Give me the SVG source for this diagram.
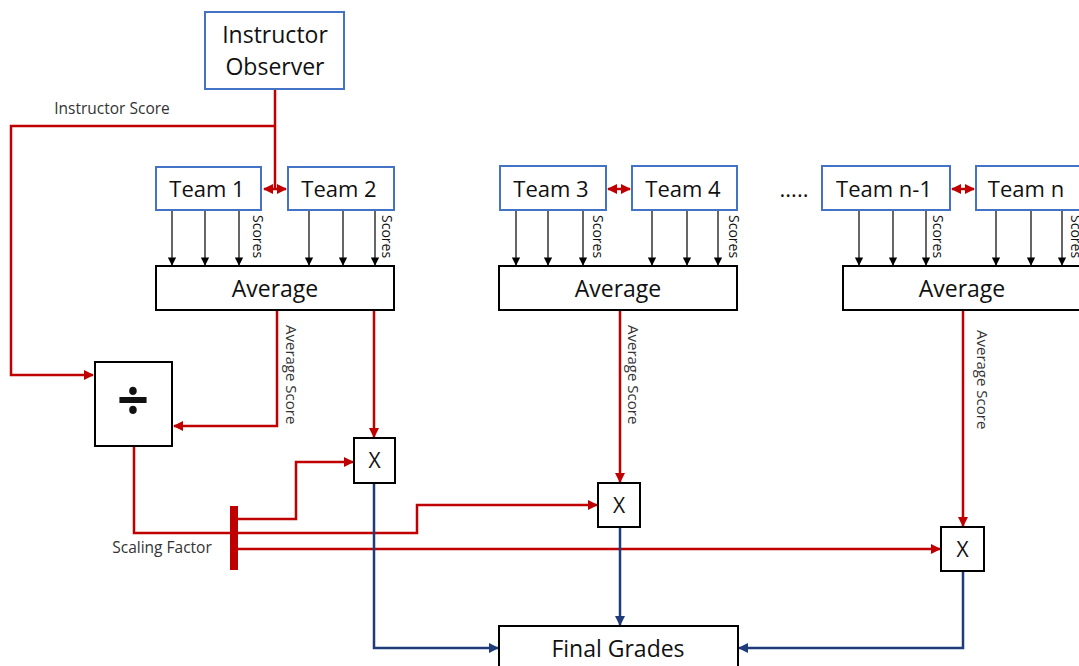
<svg xmlns="http://www.w3.org/2000/svg" width="1079" height="666" viewBox="0 0 1079 666">
<style>
.bbox{fill:#fff;stroke:#4472C4;stroke-width:2}
.kbox{fill:#fff;stroke:#000;stroke-width:2}
.t{font-family:"Open Sans","Noto Sans",sans-serif;fill:#111;text-anchor:middle}
.big{font-size:23px}
.tm{font-size:22px}
.sm{font-size:15px;fill:#333}
.sm2{font-size:15.5px;fill:#333}
.sc{font-size:14px;fill:#111}
.red{fill:none;stroke:#C00000;stroke-width:2.5}
.blue{fill:none;stroke:#1F3B7A;stroke-width:2.5}
.blk{fill:none;stroke:#000;stroke-width:1.2}
</style>
<defs>
<marker id="ar" viewBox="0 0 10 10" refX="9" refY="5" markerWidth="4" markerHeight="4" orient="auto-start-reverse" markerUnits="strokeWidth"><path d="M0,0 L10,5 L0,10 z" fill="#C00000"/></marker>
<marker id="ab" viewBox="0 0 10 10" refX="9" refY="5" markerWidth="4" markerHeight="4" orient="auto" markerUnits="strokeWidth"><path d="M0,0 L10,5 L0,10 z" fill="#1F3B7A"/></marker>
<marker id="ak" viewBox="0 0 10 10" refX="9" refY="5" markerWidth="7" markerHeight="7" orient="auto" markerUnits="strokeWidth"><path d="M0,0 L10,5 L0,10 z" fill="#000"/></marker>
</defs>

<g id="connectors">
<path class="red" d="M275,89 V189"/>
<path class="red" d="M275,126 H11 V375 H93" marker-end="url(#ar)"/>
<path class="red" d="M264,189 H286" marker-start="url(#ar)" marker-end="url(#ar)"/>
<path class="red" d="M608,189 H630" marker-start="url(#ar)" marker-end="url(#ar)"/>
<path class="red" d="M952,189 H974" marker-start="url(#ar)" marker-end="url(#ar)"/>
<g class="blk">
<path d="M172,210 V265" marker-end="url(#ak)"/>
<path d="M205,210 V265" marker-end="url(#ak)"/>
<path d="M239,210 V265" marker-end="url(#ak)"/>
<path d="M309,210 V265" marker-end="url(#ak)"/>
<path d="M343,210 V265" marker-end="url(#ak)"/>
<path d="M375,210 V265" marker-end="url(#ak)"/>
<path d="M516,210 V265" marker-end="url(#ak)"/>
<path d="M548,210 V265" marker-end="url(#ak)"/>
<path d="M583,210 V265" marker-end="url(#ak)"/>
<path d="M652,210 V265" marker-end="url(#ak)"/>
<path d="M687,210 V265" marker-end="url(#ak)"/>
<path d="M718,210 V265" marker-end="url(#ak)"/>
<path d="M859,210 V265" marker-end="url(#ak)"/>
<path d="M893,210 V265" marker-end="url(#ak)"/>
<path d="M926,210 V265" marker-end="url(#ak)"/>
<path d="M996,210 V265" marker-end="url(#ak)"/>
<path d="M1031,210 V265" marker-end="url(#ak)"/>
<path d="M1062,210 V265" marker-end="url(#ak)"/>
</g>
<path class="red" d="M277,311 V426 H174" marker-end="url(#ar)"/>
<path class="red" d="M374,311 V437" marker-end="url(#ar)"/>
<path class="red" d="M620,311 V482" marker-end="url(#ar)"/>
<path class="red" d="M963,311 V526" marker-end="url(#ar)"/>
<path class="red" d="M134,446 V533 H417 V505 H597" marker-end="url(#ar)"/>
<path class="red" d="M238,519 H296 V462 H353" marker-end="url(#ar)"/>
<path class="red" d="M238,549 H940" marker-end="url(#ar)"/>
<rect x="230" y="506" width="8" height="64" fill="#C00000"/>
<path class="blue" d="M374,483 V648 H498" marker-end="url(#ab)"/>
<path class="blue" d="M620,527 V625" marker-end="url(#ab)"/>
<path class="blue" d="M963,571 V648 H739" marker-end="url(#ab)"/>
</g>

<g id="instructor">
<rect class="bbox" x="205" y="12" width="139" height="77"/>
<text class="t big" x="275" y="43">Instructor</text>
<text class="t big" x="275" y="75">Observer</text>
</g>
<g id="team1"><rect class="bbox" x="156" y="167" width="105" height="43"/><text class="t tm" x="207" y="197">Team 1</text></g>
<g id="team2"><rect class="bbox" x="288" y="167" width="106" height="43"/><text class="t tm" x="339" y="197">Team 2</text></g>
<g id="team3"><rect class="bbox" x="500" y="166" width="106" height="44"/><text class="t tm" x="551" y="197">Team 3</text></g>
<g id="team4"><rect class="bbox" x="632" y="166" width="105" height="44"/><text class="t tm" x="683" y="197">Team 4</text></g>
<g id="dots"><text class="t tm" x="794" y="197">.....</text></g>
<g id="teamn1"><rect class="bbox" x="822" y="166" width="128" height="44"/><text class="t tm" x="884" y="197">Team n-1</text></g>
<g id="teamn"><rect class="bbox" x="976" y="166" width="110" height="44"/><text class="t tm" x="1026" y="197">Team n</text></g>

<g id="scores-labels">
<text class="t sc" transform="translate(253,215) rotate(90)" style="text-anchor:start">Scores</text>
<text class="t sc" transform="translate(382,215) rotate(90)" style="text-anchor:start">Scores</text>
<text class="t sc" transform="translate(593,215) rotate(90)" style="text-anchor:start">Scores</text>
<text class="t sc" transform="translate(729,215) rotate(90)" style="text-anchor:start">Scores</text>
<text class="t sc" transform="translate(933,215) rotate(90)" style="text-anchor:start">Scores</text>
<text class="t sc" transform="translate(1071,215) rotate(90)" style="text-anchor:start">Scores</text>
</g>

<g id="avg1"><rect class="kbox" x="156" y="266" width="238" height="44"/><text class="t big" x="275" y="297">Average</text></g>
<g id="avg2"><rect class="kbox" x="499" y="266" width="238" height="44"/><text class="t big" x="618" y="297">Average</text></g>
<g id="avg3"><rect class="kbox" x="843" y="266" width="240" height="44"/><text class="t big" x="962" y="297">Average</text></g>

<g id="avgscore-labels">
<text class="t sm" transform="translate(286,325) rotate(90)" style="text-anchor:start">Average Score</text>
<text class="t sm" transform="translate(628,325) rotate(90)" style="text-anchor:start">Average Score</text>
<text class="t sm" transform="translate(977,330) rotate(90)" style="text-anchor:start">Average Score</text>
</g>

<g id="instructor-score-label"><text class="t sm2" x="112" y="114">Instructor Score</text></g>

<g id="divide"><rect class="kbox" x="95" y="362" width="77" height="84"/><text class="t" font-size="56" font-weight="bold" x="133" y="420">÷</text></g>

<g id="x1"><rect class="kbox" x="354" y="438" width="41" height="45"/><text class="t" font-size="21" x="374.5" y="468">X</text></g>
<g id="x2"><rect class="kbox" x="598" y="483" width="42" height="44"/><text class="t" font-size="21" x="619" y="513">X</text></g>
<g id="x3"><rect class="kbox" x="941" y="527" width="43" height="44"/><text class="t" font-size="21" x="962.5" y="557">X</text></g>

<g id="scaling-label"><text class="t sm2" x="162" y="553">Scaling Factor</text></g>

<g id="final"><rect class="kbox" x="499" y="626" width="239" height="50"/><text class="t big" x="618" y="657">Final Grades</text></g>
</svg>
